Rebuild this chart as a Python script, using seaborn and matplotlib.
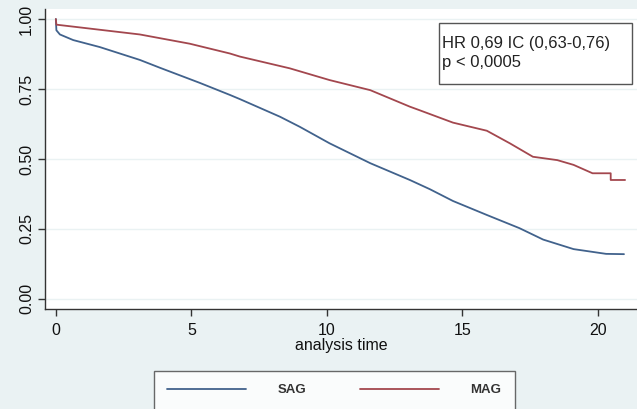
import numpy as np
import pandas as pd
import seaborn as sns
import matplotlib.pyplot as plt
from matplotlib.patches import Rectangle

sns.set_theme(style="white")
plt.rcParams['font.family'] = ['Liberation Sans', 'DejaVu Sans']

# Kaplan-Meier readings (time, survival)
sag_time = [0, 0.02, 0.15, 0.64, 1.62, 3.1, 3.84, 5.31, 6.42, 6.79, 8.27, 9.0,
            10.1, 11.6, 13.06, 13.8, 14.65, 15.9, 17.1, 17.98, 19.1, 20.3, 20.96]
sag_surv = [1.0, 0.96, 0.945, 0.925, 0.90, 0.854, 0.826, 0.772, 0.729, 0.714, 0.651, 0.615,
            0.556, 0.485, 0.425, 0.392, 0.350, 0.300, 0.253, 0.212, 0.178, 0.161, 0.160]

mag_time = [0, 0.02, 0.64, 3.1, 4.94, 6.42, 6.79, 8.63, 10.1, 11.6, 13.06, 13.4,
            14.65, 15.9, 16.75, 17.6, 18.5, 19.1, 19.8, 20.47, 20.47, 21.0]
mag_surv = [1.0, 0.98, 0.973, 0.945, 0.912, 0.877, 0.866, 0.824, 0.782, 0.746, 0.687, 0.675,
            0.630, 0.601, 0.556, 0.508, 0.496, 0.479, 0.449, 0.449, 0.425, 0.425]

groups = ["SAG", "MAG"]
colors = {"SAG": "#41628c", "MAG": "#a3474e"}
note_lines = ["HR 0,69 IC (0,63-0,76)", "p < 0,0005"]

df = pd.concat([
    pd.DataFrame({"time": sag_time, "surv": sag_surv, "group": "SAG"}),
    pd.DataFrame({"time": mag_time, "surv": mag_surv, "group": "MAG"}),
], ignore_index=True)

bg = "#eaf2f3"
fig = plt.figure(figsize=(6.37, 4.09), dpi=100, facecolor=bg)
ax = fig.add_axes([45 / 637, 100 / 409, 592 / 637, 300 / 409])
ax.set_facecolor("white")

sns.lineplot(data=df, x="time", y="surv", hue="group", hue_order=groups,
             palette=colors, estimator=None, sort=False, lw=1.3, ax=ax)

ax.set_xlim(-0.4, 21.44)
ax.set_ylim(-0.036, 1.036)
ax.set_xticks([0, 5, 10, 15, 20])
ax.set_yticks([0, 0.25, 0.5, 0.75, 1.0])
ax.set_yticklabels(["0.00", "0.25", "0.50", "0.75", "1.00"], rotation=90, va="center")
ax.yaxis.grid(True, color=bg, lw=1)
ax.set_axisbelow(True)
for s in ["top", "right"]:
    ax.spines[s].set_visible(False)
for s in ["left", "bottom"]:
    ax.spines[s].set_color("#333333")
    ax.spines[s].set_linewidth(1)
ax.tick_params(axis="both", direction="out", length=5, width=1, color="#333333",
               labelsize=11.5, labelcolor="#111111", left=True, bottom=True)
ax.tick_params(axis="y", pad=3)
ax.tick_params(axis="x", pad=5)
ax.set_xlabel("analysis time", fontsize=11.5, color="#111111", labelpad=0)
ax.set_ylabel("")

sns.move_legend(ax, loc="upper left", bbox_to_anchor=(154 / 637, 38 / 409),
                bbox_transform=fig.transFigure, ncol=2, title=None, frameon=True,
                fancybox=False, handlelength=6.0, handletextpad=2.4, columnspacing=4.0,
                borderpad=1.0, borderaxespad=0, prop={"size": 9.5, "weight": "bold"})
leg = ax.get_legend()
leg.get_frame().set_edgecolor("#444444")
leg.get_frame().set_linewidth(1)
for t in leg.get_texts():
    t.set_color("#333333")

# annotation box
fig.patches.append(Rectangle((439 / 637, 1 - 84 / 409), 193 / 637, 61 / 409,
                             transform=fig.transFigure, facecolor="white",
                             edgecolor="#555555", lw=1, zorder=5))
fig.text(442 / 637, 1 - 48 / 409, note_lines[0], fontsize=12, color="#222222", zorder=6)
fig.text(442 / 637, 1 - 67 / 409, note_lines[1], fontsize=12, color="#222222", zorder=6)

fig.savefig("out.png", dpi=100, facecolor=bg)
